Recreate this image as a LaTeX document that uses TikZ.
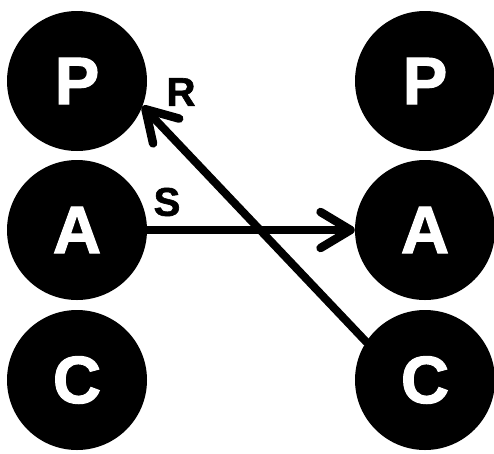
\documentclass[tikz,border=0pt]{standalone}
\usepackage{fontspec}
\setmainfont{Liberation Sans}
\newfontfamily\heavyfont{Liberation Sans Bold}[FakeBold=1.6]
\usetikzlibrary{arrows.meta}
\begin{document}
\begin{tikzpicture}[x=1pt,y=-1pt,
  ball/.style={circle,fill=black,minimum size=140pt,inner sep=0pt,
    text=white,font=\heavyfont\fontsize{67}{67}\selectfont},
  lbl/.style={font=\heavyfont\fontsize{40}{40}\selectfont,inner sep=0pt},
  link/.style={line width=8pt,line cap=round,
    -{Straight Barb[length=30pt,width=36pt,line width=8.5pt,round]}}]
  \useasboundingbox (0,0) rectangle (494,453);
  % left column
  \node[ball] (lp) at (77,81)  {P};
  \node[ball] (la) at (77,230) {A};
  \node[ball] (lc) at (77,380) {C};
  % right column
  \node[ball] (rp) at (425,81)  {P};
  \node[ball] (ra) at (425,230) {A};
  \node[ball] (rc) at (425,380) {C};
  % connectors
  \draw[link] (la) -- (ra);
  \draw[link] (rc.147) -- (lp.-21);
  % labels
  \node[lbl] (s) at (167,202) {S};
  \node[lbl] (r) at (181,92) {R};
\end{tikzpicture}
\end{document}
